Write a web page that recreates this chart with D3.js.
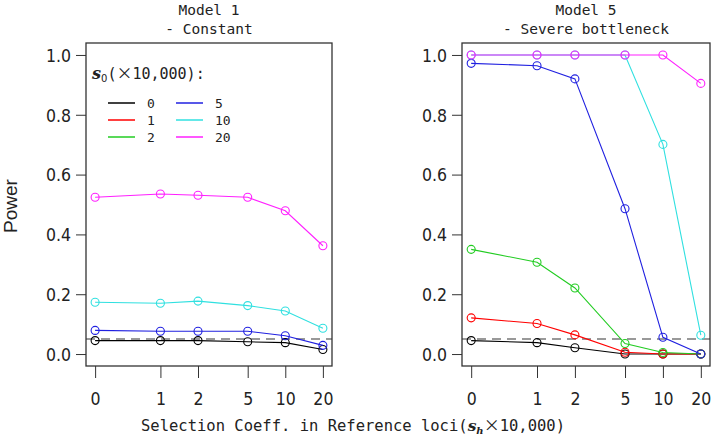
<!DOCTYPE html>
<html><head><meta charset="utf-8">
<script src="https://cdn.jsdelivr.net/npm/d3@7"></script>
<style>
body{margin:0;background:#fff;}
svg{display:block;}
.tk{font-family:"DejaVu Sans Condensed","DejaVu Sans",sans-serif;font-size:17.5px;fill:#222;}
.mono{font-family:"DejaVu Sans Mono",monospace;fill:#222;}
.cjk{font-family:"Noto Sans CJK JP",sans-serif;}
</style>
</head><body>
<svg id="c" width="712" height="440"></svg>
<script>
// ---- data ----
const shLevels = [0, 1, 2, 5, 10, 20];          // x categories (s_h x 10,000)
const s0Levels = ["0", "1", "2", "5", "10", "20"]; // series (s_0 x 10,000)
const seriesColors = ["#000000", "#ff0000", "#22cc22", "#2020e0", "#30e0e0", "#ff20ff"];
const yTicks = [0, 0.2, 0.4, 0.6, 0.8, 1.0];
const threshold = 0.05;

// Model 1 - Constant (s0 = 1, 2 not drawn)
const m1_s0_0  = [0.045, 0.045, 0.045, 0.041, 0.038, 0.015];
const m1_s0_1  = null;
const m1_s0_2  = null;
const m1_s0_5  = [0.079, 0.076, 0.076, 0.076, 0.061, 0.029];
const m1_s0_10 = [0.173, 0.170, 0.177, 0.162, 0.144, 0.086];
const m1_s0_20 = [0.524, 0.535, 0.531, 0.524, 0.479, 0.362];

// Model 5 - Severe bottleneck
const m5_s0_0  = [0.045, 0.038, 0.021, 0.000, 0.000, 0.000];
const m5_s0_1  = [0.121, 0.102, 0.064, 0.006, 0.000, 0.000];
const m5_s0_2  = [0.350, 0.307, 0.221, 0.035, 0.005, 0.000];
const m5_s0_5  = [0.972, 0.964, 0.920, 0.486, 0.056, 0.000];
const m5_s0_10 = [1.000, 1.000, 1.000, 1.000, 0.701, 0.063];
const m5_s0_20 = [1.000, 1.000, 1.000, 1.000, 1.000, 0.905];

const panels = [
  {title1: "Model 1", title2: "- Constant", series: [m1_s0_0, m1_s0_1, m1_s0_2, m1_s0_5, m1_s0_10, m1_s0_20], x0: 86, x1: 332, legend: true},
  {title1: "Model 5", title2: "- Severe bottleneck", series: [m5_s0_0, m5_s0_1, m5_s0_2, m5_s0_5, m5_s0_10, m5_s0_20], x0: 462, x1: 710, legend: false}
];

const svg = d3.select("#c");
const frameTop = 43, frameBottom = 366;
const zeroSub = 0.3; // position used for s_h = 0 on the log axis

const y = d3.scaleLinear().domain([-0.04, 1.04]).range([frameBottom, frameTop]);

panels.forEach(p => {
  const w = p.x1 - p.x0;
  const pad = w * 0.04 / 1.08;
  const xl = d3.scaleLog().domain([zeroSub, 20]).range([p.x0 + pad, p.x1 - pad]);
  const x = v => xl(v === 0 ? zeroSub : v);
  const g = svg.append("g");

  // titles
  const cx = (p.x0 + p.x1) / 2;
  g.append("text").attr("class", "mono").attr("x", cx).attr("y", 15).attr("text-anchor", "middle").style("font-size", "14.5px").text(p.title1);
  g.append("text").attr("class", "mono").attr("x", cx).attr("y", 34).attr("text-anchor", "middle").style("font-size", "14.5px").text(p.title2);

  // y axis
  const ya = g.append("g").attr("transform", `translate(${p.x0},0)`)
    .call(d3.axisLeft(y).tickValues(yTicks).tickFormat(d3.format(".1f")).tickSize(10).tickPadding(5));
  ya.select(".domain").remove();
  ya.selectAll("line").attr("stroke", "#333");
  ya.selectAll("text").attr("class", "tk").attr("font-family", null).attr("font-size", null).attr("dy", "0.36em");

  // x axis
  const xa = g.append("g").attr("transform", `translate(0,${frameBottom})`)
    .call(d3.axisBottom(xl).tickValues(shLevels.map(v => v === 0 ? zeroSub : v))
      .tickFormat((d, i) => String(shLevels[i])).tickSize(12).tickPadding(15));
  xa.select(".domain").remove();
  xa.selectAll("line").attr("stroke", "#333");
  xa.selectAll("text").attr("class", "tk").attr("font-family", null).attr("font-size", null);

  // threshold
  g.append("line").attr("x1", p.x0).attr("x2", p.x1).attr("y1", y(threshold)).attr("y2", y(threshold))
    .attr("stroke", "#999").attr("stroke-width", 2).attr("stroke-dasharray", "9,6");

  // series
  const line = d3.line().x((d, i) => x(shLevels[i])).y(d => y(d));
  p.series.forEach((vals, si) => {
    if (!vals) return;
    g.append("path").attr("d", line(vals)).attr("fill", "none").attr("stroke", seriesColors[si]).attr("stroke-width", 1.1);
    g.selectAll(null).data(vals).enter().append("circle")
      .attr("cx", (d, i) => x(shLevels[i])).attr("cy", d => y(d)).attr("r", 4)
      .attr("fill", "none").attr("stroke", seriesColors[si]).attr("stroke-width", 1.1);
  });

  // frame
  g.append("rect").attr("x", p.x0).attr("y", frameTop).attr("width", w).attr("height", frameBottom - frameTop)
    .attr("fill", "none").attr("stroke", "#333").attr("stroke-width", 1.3);

  if (p.legend) {
    const lt = g.append("text").attr("x", 92).attr("y", 79).attr("class", "mono").style("font-size", "15px");
    lt.append("tspan").attr("font-family", "'DejaVu Serif',serif").attr("font-style", "italic").attr("font-weight", "bold").style("font-size", "16px").text("s");
    lt.append("tspan").attr("dy", 3).style("font-size", "10px").attr("font-family", "'DejaVu Sans',sans-serif").text("0");
    lt.append("tspan").attr("dy", -3).text("(");
    lt.append("tspan").attr("class", "cjk").style("font-size", "16px").text("×");
    lt.append("tspan").text("10,000):");
    s0Levels.forEach((lab, i) => {
      const col = Math.floor(i / 3), row = i % 3;
      const lx = col === 0 ? 108 : 176;
      const ly = 103 + row * 17;
      g.append("line").attr("x1", lx).attr("x2", lx + 27).attr("y1", ly).attr("y2", ly)
        .attr("stroke", seriesColors[i]).attr("stroke-width", 1.5);
      g.append("text").attr("class", "mono").attr("x", lx + 39).attr("y", ly + 5).style("font-size", "13px").text(lab);
    });
  }
});

// axis labels
svg.append("text").attr("class", "mono").attr("x", 353).attr("y", 431).attr("text-anchor", "middle").style("font-size", "15.5px")
  .call(t => {
    t.append("tspan").text("Selection Coeff. in Reference loci(");
    t.append("tspan").attr("font-family", "'DejaVu Serif',serif").attr("font-style", "italic").attr("font-weight", "bold").text("s");
    t.append("tspan").attr("dy", 3).style("font-size", "10px").attr("font-family", "'DejaVu Serif',serif").attr("font-style", "italic").attr("font-weight", "bold").text("h");
    t.append("tspan").attr("dy", -3).attr("class", "cjk").style("font-size", "16px").text("×");
    t.append("tspan").text("10,000)");
  });
svg.append("text").attr("transform", "translate(17,206) rotate(-90)").attr("text-anchor", "middle")
  .attr("font-family", "'Liberation Sans',Arial,sans-serif").attr("font-size", "19px").attr("fill", "#222").text("Power");
</script>
</body></html>
